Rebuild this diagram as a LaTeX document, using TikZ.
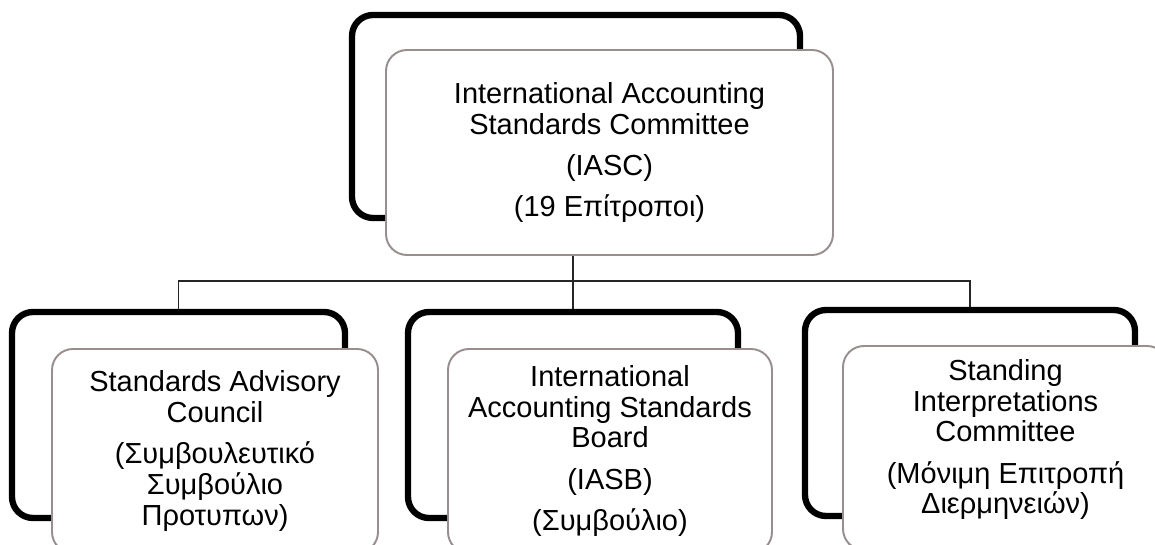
\documentclass[tikz,border=0pt]{standalone}
\usepackage{fontspec}
\setmainfont{Liberation Sans}
\definecolor{framegray}{RGB}{152,142,142}

\begin{document}
\begin{tikzpicture}[
    backbox/.style ={draw, line width=3.6pt, rounded corners=0.42cm},
    frontbox/.style ={draw=framegray, line width=1.1pt, fill=white, rounded corners=0.42cm,
                      align=center, inner sep=2pt, font=\fontsize{16.5}{17.5}\selectfont},
    link/.style ={line width=1.1pt, black!85}]
   \useasboundingbox (0,0) rectangle (23.1,10.88);
   \clip (0,0) rectangle (23.1,10.88);
   % top committee
   \node[backbox, minimum width=8.96cm, minimum height=4.06cm] (iasc-back) at (11.52,8.55) {};
   \node[frontbox, minimum width=8.94cm, minimum height=4.1cm] (iasc) at (12.19,7.83)
      {International Accounting\\Standards Committee\\[6pt](IASC)\\[6pt](19 Επίτροποι)};
   % lower bodies
   \node[backbox, minimum width=6.66cm, minimum height=4.12cm] (sac-back) at (3.57,2.58) {};
   \node[backbox, minimum width=6.6cm, minimum height=4.12cm] (iasb-back) at (11.46,2.58) {};
   \node[backbox, minimum width=6.6cm, minimum height=4.12cm] (sic-back) at (19.40,2.62) {};
   \coordinate (bus) at ([yshift=0.56cm]iasb-back.north);
   \draw[link] (iasb-back.north) -- (iasb-back.north |- iasc.south);
   \draw[link] (sac-back.north) |- (bus) -| (sic-back.north);
   \node[frontbox, minimum width=6.52cm, minimum height=4.08cm] (sac) at (4.30,1.86)
      {Standards Advisory\\Council\\[6pt](Συμβουλευτικό\\Συμβούλιο\\Προτυπων)};
   \node[frontbox, minimum width=6.48cm, minimum height=4.08cm] (iasb) at (12.20,1.86)
      {International\\Accounting Standards\\Board\\[6pt](IASB)\\[6pt](Συμβούλιο)};
   \node[frontbox, minimum width=6.5cm, minimum height=4.08cm, text depth=13pt] (sic) at (20.11,1.92)
      {Standing\\Interpretations\\Committee\\[6pt](Μόνιμη Επιτροπή\\Διερμηνειών)};
 \end{tikzpicture}
\end{document}
